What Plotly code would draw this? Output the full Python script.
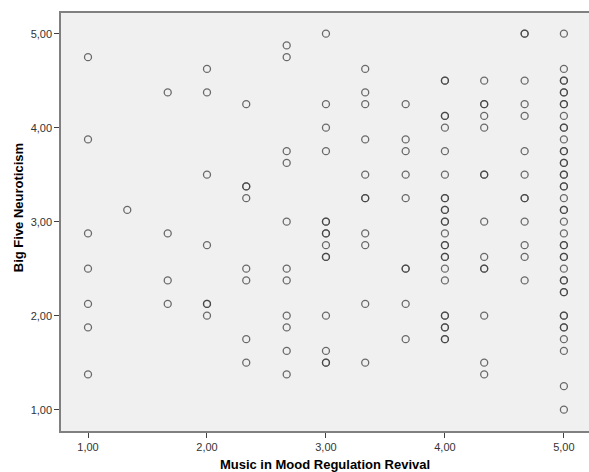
import plotly.graph_objects as go

# Music in Mood Regulation Revival (x columns)
mmr_levels = [1.00, 1.33, 1.67, 2.00, 2.33, 2.67, 3.00, 3.33, 3.67, 4.00, 4.33, 4.67, 5.00]

# Big Five Neuroticism values per x column
neuro_100 = [4.75, 3.875, 2.875, 2.5, 2.125, 1.875, 1.375]
neuro_133 = [3.125]
neuro_167 = [4.375, 2.875, 2.375, 2.125]
neuro_200 = [4.625, 4.375, 3.5, 2.75, 2.125, 2.125, 2.0]
neuro_233 = [4.25, 3.375, 3.375, 3.25, 2.5, 2.375, 1.75, 1.5]
neuro_267 = [4.875, 4.75, 3.75, 3.625, 3.0, 2.5, 2.375, 2.0, 1.875, 1.625, 1.375]
neuro_300 = [5.0, 4.25, 4.0, 3.75, 3.0, 3.0, 2.875, 2.875, 2.75, 2.625, 2.625, 2.0, 1.625, 1.5, 1.5]
neuro_333 = [4.625, 4.375, 4.25, 3.875, 3.5, 3.25, 3.25, 2.875, 2.75, 2.125, 1.5]
neuro_367 = [4.25, 3.875, 3.75, 3.5, 3.25, 2.5, 2.5, 2.125, 1.75]
neuro_400 = [4.5, 4.5, 4.125, 4.125, 4.0, 3.75, 3.5, 3.25, 3.25, 3.125, 3.125, 3.0, 3.0,
             2.875, 2.75, 2.75, 2.625, 2.625, 2.5, 2.375, 2.0, 2.0, 1.875, 1.875, 1.75, 1.75]
neuro_433 = [4.5, 4.25, 4.25, 4.125, 4.0, 3.5, 3.5, 3.0, 2.625, 2.5, 2.5, 2.0, 1.5, 1.375]
neuro_467 = [5.0, 5.0, 4.5, 4.25, 4.125, 3.75, 3.5, 3.25, 3.25, 3.0, 2.75, 2.625, 2.375]
neuro_500 = [5.0, 4.625, 4.5, 4.5, 4.375, 4.375, 4.25, 4.25, 4.125, 4.0, 4.0, 3.875, 3.75, 3.75,
             3.625, 3.625, 3.5, 3.5, 3.375, 3.375, 3.25, 3.125, 3.125, 3.0, 2.875, 2.75, 2.75,
             2.625, 2.625, 2.5, 2.375, 2.375, 2.25, 2.25, 2.0, 2.0, 1.875, 1.875, 1.75, 1.625,
             1.25, 1.0]

tick_vals = [1, 2, 3, 4, 5]
tick_text = ["1,00", "2,00", "3,00", "4,00", "5,00"]

columns = [neuro_100, neuro_133, neuro_167, neuro_200, neuro_233, neuro_267, neuro_300,
           neuro_333, neuro_367, neuro_400, neuro_433, neuro_467, neuro_500]

xs, ys = [], []
for lvl, col in zip(mmr_levels, columns):
    for v in col:
        xs.append(lvl)
        ys.append(v)

fig = go.Figure()
fig.add_trace(go.Scatter(
    x=xs, y=ys, mode="markers",
    marker=dict(symbol="circle-open", size=7,
                color="rgba(60,60,60,0.75)",
                line=dict(width=1.3, color="rgba(60,60,60,0.75)")),
    hoverinfo="x+y", showlegend=False))

axis_font = dict(family="Liberation Sans, Arial, sans-serif", size=11, color="#333333")
title_font = dict(family="Liberation Sans, Arial, sans-serif", size=13, color="#000000")

fig.update_layout(
    width=589, height=472,
    margin=dict(l=61, r=0, t=13, b=41),
    paper_bgcolor="white",
    plot_bgcolor="#f0f0f0",
    xaxis=dict(
        range=[0.773, 5.211], tickvals=tick_vals, ticktext=tick_text,
        showgrid=False, zeroline=False,
        showline=True, mirror=True, linecolor="#808080", linewidth=1.5,
        ticks="outside", ticklen=5, tickwidth=1, tickcolor="#404040",
        tickfont=axis_font,
        title=dict(text="<b>Music in Mood Regulation Revival</b>", font=title_font, standoff=10),
    ),
    yaxis=dict(
        range=[0.773, 5.22], tickvals=tick_vals, ticktext=tick_text,
        showgrid=False, zeroline=False,
        showline=True, mirror=False, linecolor="#808080", linewidth=1.5,
        ticks="outside", ticklen=5, tickwidth=1, tickcolor="#404040",
        tickfont=axis_font,
    ),
    annotations=[dict(
        text="<b>Big Five Neuroticism</b>", font=title_font, textangle=-90,
        xref="paper", yref="paper", x=-0.0814, y=0.533,
        xanchor="center", yanchor="middle", showarrow=False)],
)

fig.write_html("out.html")
